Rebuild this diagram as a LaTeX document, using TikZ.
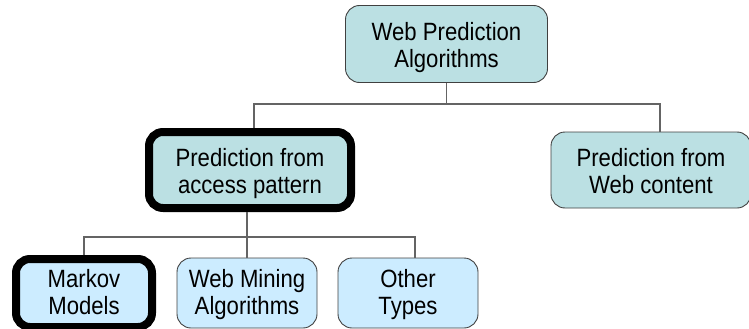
\documentclass[tikz,border=0pt]{standalone}
\usepackage{fontspec}
\setmainfont{Liberation Sans}[FakeStretch=0.885]
\definecolor{tealbox}{RGB}{187,224,227}
\definecolor{bluebox}{RGB}{204,236,255}
\definecolor{edgegray}{RGB}{64,64,64}
\definecolor{linegray}{RGB}{100,100,100}
\begin{document}
\begin{tikzpicture}[x=1pt, y=-1pt, every node/.style={font=\fontsize{25}{26.5}\selectfont}]
			\tikzstyle{box} = [rectangle,rounded corners=14pt,draw=edgegray,line width=0.9pt,align=center,inner sep=0pt,text depth=0pt];
			\tikzstyle{upper} = [box,fill=tealbox,minimum width=202pt,minimum height=77pt,text height=46pt];
			\tikzstyle{lower} = [box,fill=bluebox,minimum width=140pt,minimum height=70pt,text height=42pt];
			\tikzstyle{bold} = [draw=black,line width=8pt];
			\tikzstyle{conn} = [draw=linegray,line width=1.3pt];
			\clip (0,0) rectangle (749,329);
			\node[upper](web)at(446.5,44){Web Prediction\\Algorithms};
			\node[upper,bold,minimum height=76pt](access)at(250,170){Prediction from\\access pattern};
			\node[upper,minimum width=200pt,minimum height=76pt](content)at(651,170){Prediction from\\Web content};
			\node[lower,bold,minimum width=136pt,minimum height=68pt](markov)at(84,293){Markov\\Models};
			\node[lower](mining)at(247,293){Web Mining\\Algorithms};
			\node[lower](other)at(408,293){Other\\Types};
			
			\coordinate(b1)at(446.5,104);
			\coordinate(b2)at(247,237);
			\draw[conn] (web.south) -- (b1);
			\draw[conn] ([xshift=4pt]access.north) |- (b1) -| ([xshift=9pt]content.north);
			\draw[conn] ([xshift=-3pt]access.south) -- (b2);
			\draw[conn] (markov.north) |- (b2) -| ([xshift=7pt]other.north);
			\draw[conn] (b2) -- (mining.north);
			\end{tikzpicture}
\end{document}
